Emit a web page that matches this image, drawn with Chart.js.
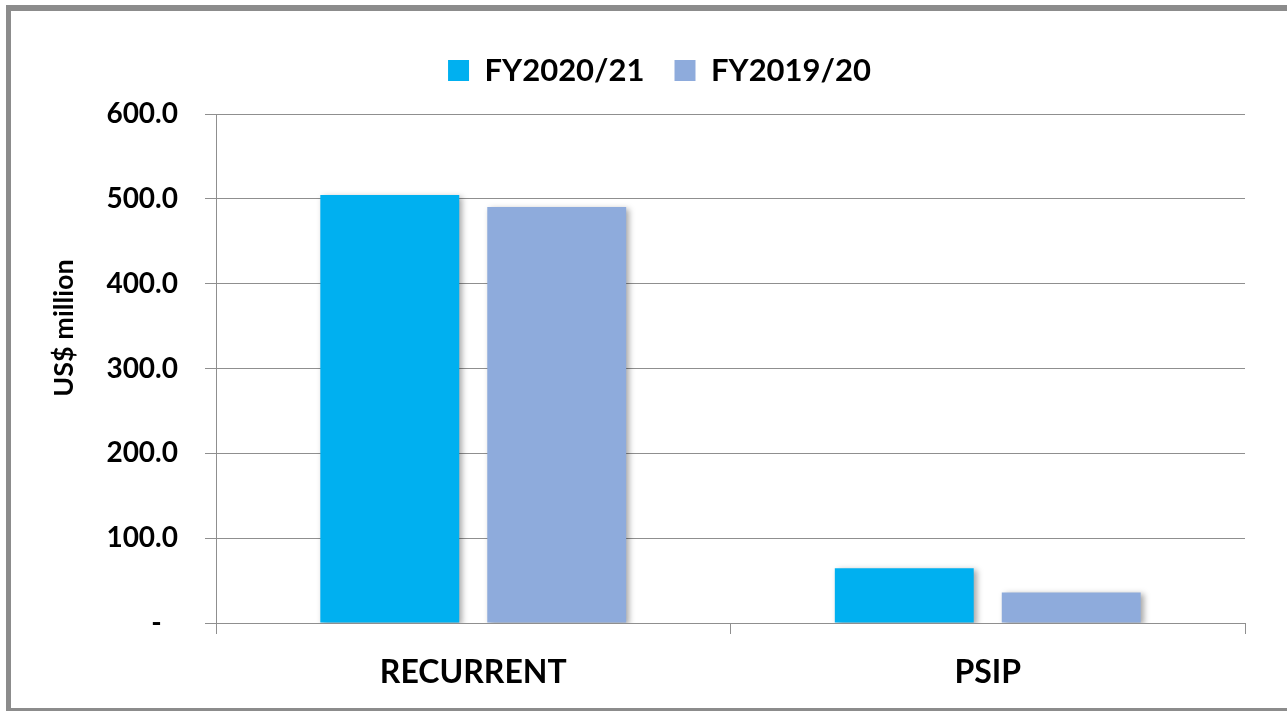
<!DOCTYPE html>
<html>
<head>
<meta charset="utf-8">
<script src="https://cdn.jsdelivr.net/npm/chart.js@4/dist/chart.umd.min.js"></script>
<style>
  html, body { margin: 0; padding: 0; background: #fff; }
  #wrap { position: relative; width: 1287px; height: 711px; overflow: hidden; }
  #frame {
    position: absolute; left: 6px; top: 5px; width: 1400px; height: 697px;
    border-style: solid; border-color: #8c8c8c; border-width: 6px 0 6px 5px;
    pointer-events: none;
  }
  canvas { position: absolute; left: 0; top: 0; }
</style>
</head>
<body>
<div id="wrap">
  <canvas id="budgetChart" width="1287" height="711"></canvas>
  <div id="frame"></div>
</div>
<script>
  const categories = ['RECURRENT', 'PSIP'];
  const fy2021 = [504.5, 64.5];
  const fy1920 = [490.5, 36.0];
  const yTickLabels = ['-', '100.0', '200.0', '300.0', '400.0', '500.0', '600.0'];

  const FONT = 'Lato, "Open Sans", sans-serif';
  const GRID = '#8f8f8f';

  // keep the legend block a fixed height so the plot starts where the original does
  const legendHeight = {
    id: 'legendHeight',
    beforeInit(chart) {
      const fit = chart.legend.fit;
      chart.legend.fit = function () {
        fit.call(this);
        this.height = 89;
      };
    }
  };

  const barShadow = {
    id: 'barShadow',
    beforeDatasetsDraw(chart) {
      const c = chart.ctx;
      c.save();
      c.shadowColor = 'rgba(0,0,0,0.35)';
      c.shadowBlur = 6;
      c.shadowOffsetX = 3;
      c.shadowOffsetY = 2;
    },
    afterDatasetsDraw(chart) {
      chart.ctx.restore();
    }
  };

  const ctx = document.getElementById('budgetChart').getContext('2d');

  new Chart(ctx, {
    type: 'bar',
    data: {
      labels: categories,
      datasets: [
        {
          label: 'FY2020/21',
          data: fy2021,
          backgroundColor: '#00b0f0',
          borderWidth: 0,
          barPercentage: 0.832,
          categoryPercentage: 0.649
        },
        {
          label: 'FY2019/20',
          data: fy1920,
          backgroundColor: '#8eabdc',
          borderWidth: 0,
          barPercentage: 0.832,
          categoryPercentage: 0.649
        }
      ]
    },
    options: {
      responsive: false,
      animation: false,
      layout: { padding: { left: 74, right: 42, top: 25, bottom: 0 } },
      plugins: {
        tooltip: { enabled: false },
        legend: {
          position: 'top',
          labels: {
            color: '#000',
            boxWidth: 21,
            boxHeight: 21,
            padding: 30,
            font: { family: FONT, size: 31, weight: 'bold' }
          }
        }
      },
      scales: {
        x: {
          afterFit: (scale) => { scale.height = 88; },
          grid: {
            offset: true,
            drawOnChartArea: false,
            drawTicks: true,
            tickLength: 11,
            color: GRID
          },
          border: { color: GRID },
          ticks: {
            color: '#000',
            padding: 19,
            font: { family: FONT, size: 32, weight: 'bold' }
          }
        },
        y: {
          min: 0,
          max: 600,
          afterFit: (scale) => { scale.width = 142; },
          grid: { color: GRID, tickLength: 11 },
          border: { color: GRID },
          ticks: {
            stepSize: 100,
            color: '#000',
            padding: 27,
            font: { family: FONT, size: 28, weight: 'bold' },
            callback: (v, i) => (i === 0 ? yTickLabels[i] + '\u2007' : yTickLabels[i])
          },
          title: {
            display: true,
            text: '\u2003\u2003\u2003\u2003US$ million',
            color: '#000',
            padding: { top: -26, bottom: 0 },
            font: { family: FONT, size: 27, weight: 'bold' }
          }
        }
      }
    },
    plugins: [legendHeight, barShadow]
  });
</script>
</body>
</html>
